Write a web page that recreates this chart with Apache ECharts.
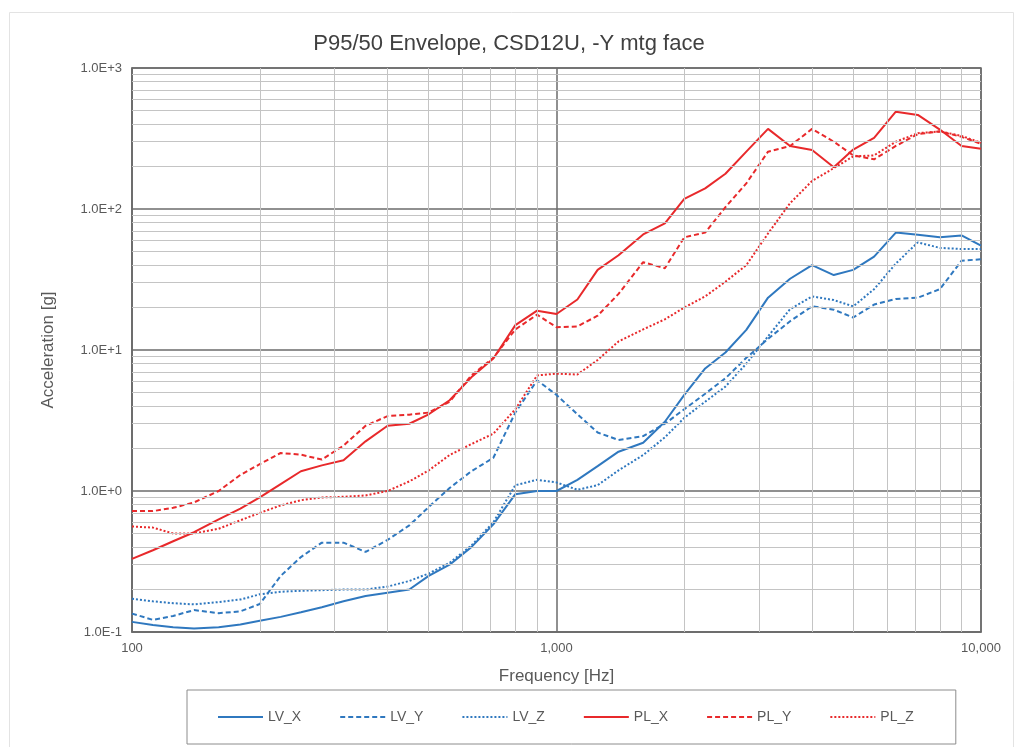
<!DOCTYPE html>
<html>
<head>
<meta charset="utf-8">
<script src="https://cdn.jsdelivr.net/npm/echarts@6/dist/echarts.min.js"></script>
<style>
  html, body { margin: 0; padding: 0; background: #ffffff; }
  #chart { width: 1018px; height: 747px; }
</style>
</head>
<body>
<div id="chart"></div>
<script>
// 1/6-octave frequency points [Hz]
const freqs = [100, 112, 125, 140, 160, 180, 200, 224, 250, 280, 315, 355, 400, 450, 500, 560, 630, 710, 800, 900,
               1000, 1120, 1250, 1400, 1600, 1800, 2000, 2240, 2500, 2800, 3150, 3550, 4000, 4500, 5000, 5600, 6300, 7100, 8000, 9000, 10000];

// P95/50 envelope acceleration [g] per axis
const LV_X = [0.118, 0.112, 0.108, 0.106, 0.108, 0.113, 0.12, 0.128, 0.138, 0.15, 0.165, 0.18, 0.19, 0.2, 0.25, 0.30, 0.40, 0.58, 0.95, 1.0,
              1.0, 1.2, 1.5, 1.9, 2.2, 3.1, 4.8, 7.4, 9.6, 13.9, 23.5, 32, 40, 34, 37, 46, 68, 65.7, 63, 65, 55];
const LV_Y = [0.135, 0.122, 0.13, 0.143, 0.136, 0.14, 0.158, 0.25, 0.34, 0.43, 0.43, 0.37, 0.45, 0.57, 0.77, 1.05, 1.38, 1.72, 3.6, 6.1,
              4.8, 3.5, 2.6, 2.3, 2.45, 3.0, 3.8, 4.9, 6.3, 8.8, 12, 16, 20.4, 19.3, 17, 21, 23, 23.5, 27, 43, 44];
const LV_Z = [0.172, 0.165, 0.16, 0.157, 0.163, 0.17, 0.185, 0.193, 0.196, 0.198, 0.2, 0.2, 0.21, 0.23, 0.26, 0.31, 0.41, 0.6, 1.1, 1.2,
              1.15, 1.02, 1.1, 1.4, 1.8, 2.4, 3.3, 4.3, 5.5, 8.0, 12.5, 19.5, 24, 22.6, 20.4, 27, 41, 58, 53, 52, 52];
const PL_X = [0.33, 0.38, 0.44, 0.51, 0.63, 0.75, 0.9, 1.12, 1.38, 1.52, 1.65, 2.25, 2.9, 3.0, 3.5, 4.4, 6.4, 8.7, 15, 19,
              18, 22.8, 37, 47, 66, 79, 118, 140, 178, 255, 370, 280, 262, 198, 264, 320, 490, 465, 366, 280, 267];
const PL_Y = [0.72, 0.72, 0.76, 0.83, 1.0, 1.3, 1.55, 1.86, 1.81, 1.67, 2.1, 2.9, 3.4, 3.48, 3.6, 4.3, 6.6, 8.8, 14, 17.8,
              14.5, 14.7, 17.5, 25, 42, 38, 63, 68, 103, 152, 255, 280, 370, 300, 240, 225, 280, 340, 355, 325, 290];
const PL_Z = [0.56, 0.55, 0.50, 0.50, 0.54, 0.62, 0.70, 0.79, 0.86, 0.90, 0.91, 0.93, 1.0, 1.17, 1.4, 1.8, 2.15, 2.55, 3.8, 6.6,
              6.8, 6.7, 8.5, 11.5, 14, 16.5, 20, 24, 30.5, 40, 67, 110, 158, 195, 236, 240, 300, 345, 355, 330, 295];

// minor grid positions (2..9 within each decade)
const minorFreqs = [200, 300, 400, 500, 600, 700, 800, 900, 2000, 3000, 4000, 5000, 6000, 7000, 8000, 9000];
const minorAccels = [0.2, 0.3, 0.4, 0.5, 0.6, 0.7, 0.8, 0.9, 2, 3, 4, 5, 6, 7, 8, 9,
                     20, 30, 40, 50, 60, 70, 80, 90, 200, 300, 400, 500, 600, 700, 800, 900];

const BLUE = '#2f78bf';
const RED = '#e8292b';
const FONT = 'Liberation Sans, Arial, sans-serif';
const TEXT = '#595959';

const seriesDefs = [
  { name: 'LV_X', values: LV_X, color: BLUE, dash: 'solid' },
  { name: 'LV_Y', values: LV_Y, color: BLUE, dash: [5, 3] },
  { name: 'LV_Z', values: LV_Z, color: BLUE, dash: [2, 2] },
  { name: 'PL_X', values: PL_X, color: RED, dash: 'solid' },
  { name: 'PL_Y', values: PL_Y, color: RED, dash: [5, 3] },
  { name: 'PL_Z', values: PL_Z, color: RED, dash: [2, 2] }
];

const chart = echarts.init(document.getElementById('chart'), null, { renderer: 'canvas' });

const series = seriesDefs.map(d => ({
  name: d.name,
  type: 'line',
  data: freqs.map((f, i) => [f, d.values[i]]),
  symbol: 'none',
  z: 3,
  lineStyle: { color: d.color, width: 2, type: d.dash },
  itemStyle: { color: d.color }
}));

// light minor grid drawn beneath the curves
series.unshift({
  name: 'minorGrid',
  type: 'line',
  data: [],
  z: 1,
  silent: true,
  markLine: {
    silent: true,
    symbol: ['none', 'none'],
    label: { show: false },
    lineStyle: { color: '#c4c4c4', width: 1, type: 'solid' },
    emphasis: { disabled: true },
    data: minorFreqs.map(f => ({ xAxis: f })).concat(minorAccels.map(v => ({ yAxis: v })))
  }
});

chart.setOption({
  animation: false,
  backgroundColor: '#ffffff',
  title: {
    text: 'P95/50 Envelope, CSD12U, -Y mtg face',
    left: 'center',
    top: 28,
    textStyle: { fontFamily: FONT, fontSize: 22, fontWeight: 'normal', color: '#404040' }
  },
  graphic: [{
    type: 'rect',
    shape: { x: 9.5, y: 12.5, width: 1004, height: 800 },
    style: { fill: 'none', stroke: '#e3e3e3', lineWidth: 1 },
    silent: true,
    z: -1
  }],
  grid: {
    left: 132, right: 37, top: 68, bottom: 115,
    show: true, borderColor: '#6b6b6b', borderWidth: 1.5
  },
  legend: {
    data: seriesDefs.map(d => d.name),
    left: 187,
    top: 690,
    padding: [20, 42, 20, 30],
    itemWidth: 45,
    itemHeight: 14,
    itemGap: 38,
    borderColor: '#8c8c8c',
    borderWidth: 1,
    itemStyle: { opacity: 0 },
    textStyle: { fontFamily: FONT, fontSize: 14, color: TEXT }
  },
  xAxis: {
    type: 'log',
    logBase: 10,
    min: 100,
    max: 10000,
    name: 'Frequency [Hz]',
    nameLocation: 'middle',
    nameGap: 36,
    nameTextStyle: { fontFamily: FONT, fontSize: 17, color: TEXT },
    axisLine: { show: true, lineStyle: { color: '#6b6b6b', width: 1.5 } },
    axisTick: { show: false },
    axisLabel: {
      fontFamily: FONT, fontSize: 13, color: TEXT, margin: 10,
      formatter: v => Math.round(v).toLocaleString('en-US')
    },
    splitLine: { show: true, lineStyle: { color: '#6b6b6b', width: 1.5 } }
  },
  yAxis: {
    type: 'log',
    logBase: 10,
    min: 0.1,
    max: 1000,
    name: 'Acceleration [g]',
    nameLocation: 'middle',
    nameGap: 75,
    nameTextStyle: { fontFamily: FONT, fontSize: 17, color: TEXT },
    axisLine: { show: true, lineStyle: { color: '#6b6b6b', width: 1.5 } },
    axisTick: { show: false },
    axisLabel: {
      fontFamily: FONT, fontSize: 13, color: TEXT, margin: 10,
      formatter: v => v.toExponential(1).toUpperCase()
    },
    splitLine: { show: true, lineStyle: { color: '#6b6b6b', width: 1.5 } }
  },
  series: series
});
</script>
</body>
</html>
